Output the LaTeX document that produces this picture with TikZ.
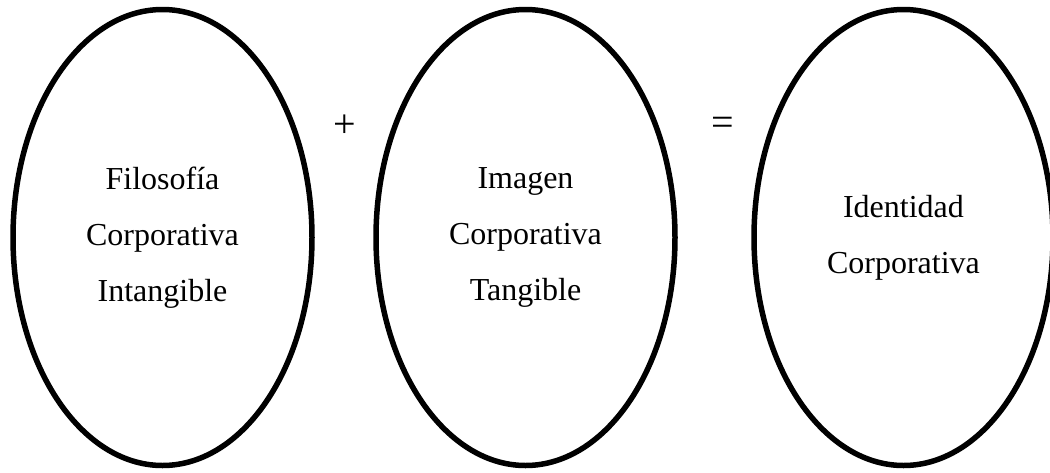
\documentclass[tikz,border=0pt]{standalone}
\usepackage{fontspec}
\setmainfont{Liberation Serif}
\usetikzlibrary{shapes.geometric,positioning}
\newcommand{\diagfont}{\fontsize{32}{56}\selectfont}
\newcommand{\signfont}{\fontsize{40}{44}\selectfont}

\begin{document}
\begin{tikzpicture}[x=1pt, y=-1pt,
    concept/.style={draw, ellipse, line width=5.5pt, minimum width=299pt, minimum height=456pt, inner sep=0pt, align=center, font=\diagfont},
    sign/.style={inner sep=0pt, font=\signfont}
  ]
  \useasboundingbox (0,0) rectangle (1050,472);
  \node[concept] (filosofia) at (162.5,237.5) {Filosofía\\Corporativa\\Intangible};
  \node[concept] (imagen) at (525.5,237.5) {Imagen\\Corporativa\\Tangible};
  \node[concept] (identidad) at (903.5,237.5) {Identidad\\Corporativa};

  \node[sign] (plus) at (345,126) {+};
  \node[sign] (equals) at (723,126) {=};
\end{tikzpicture}
\end{document}
